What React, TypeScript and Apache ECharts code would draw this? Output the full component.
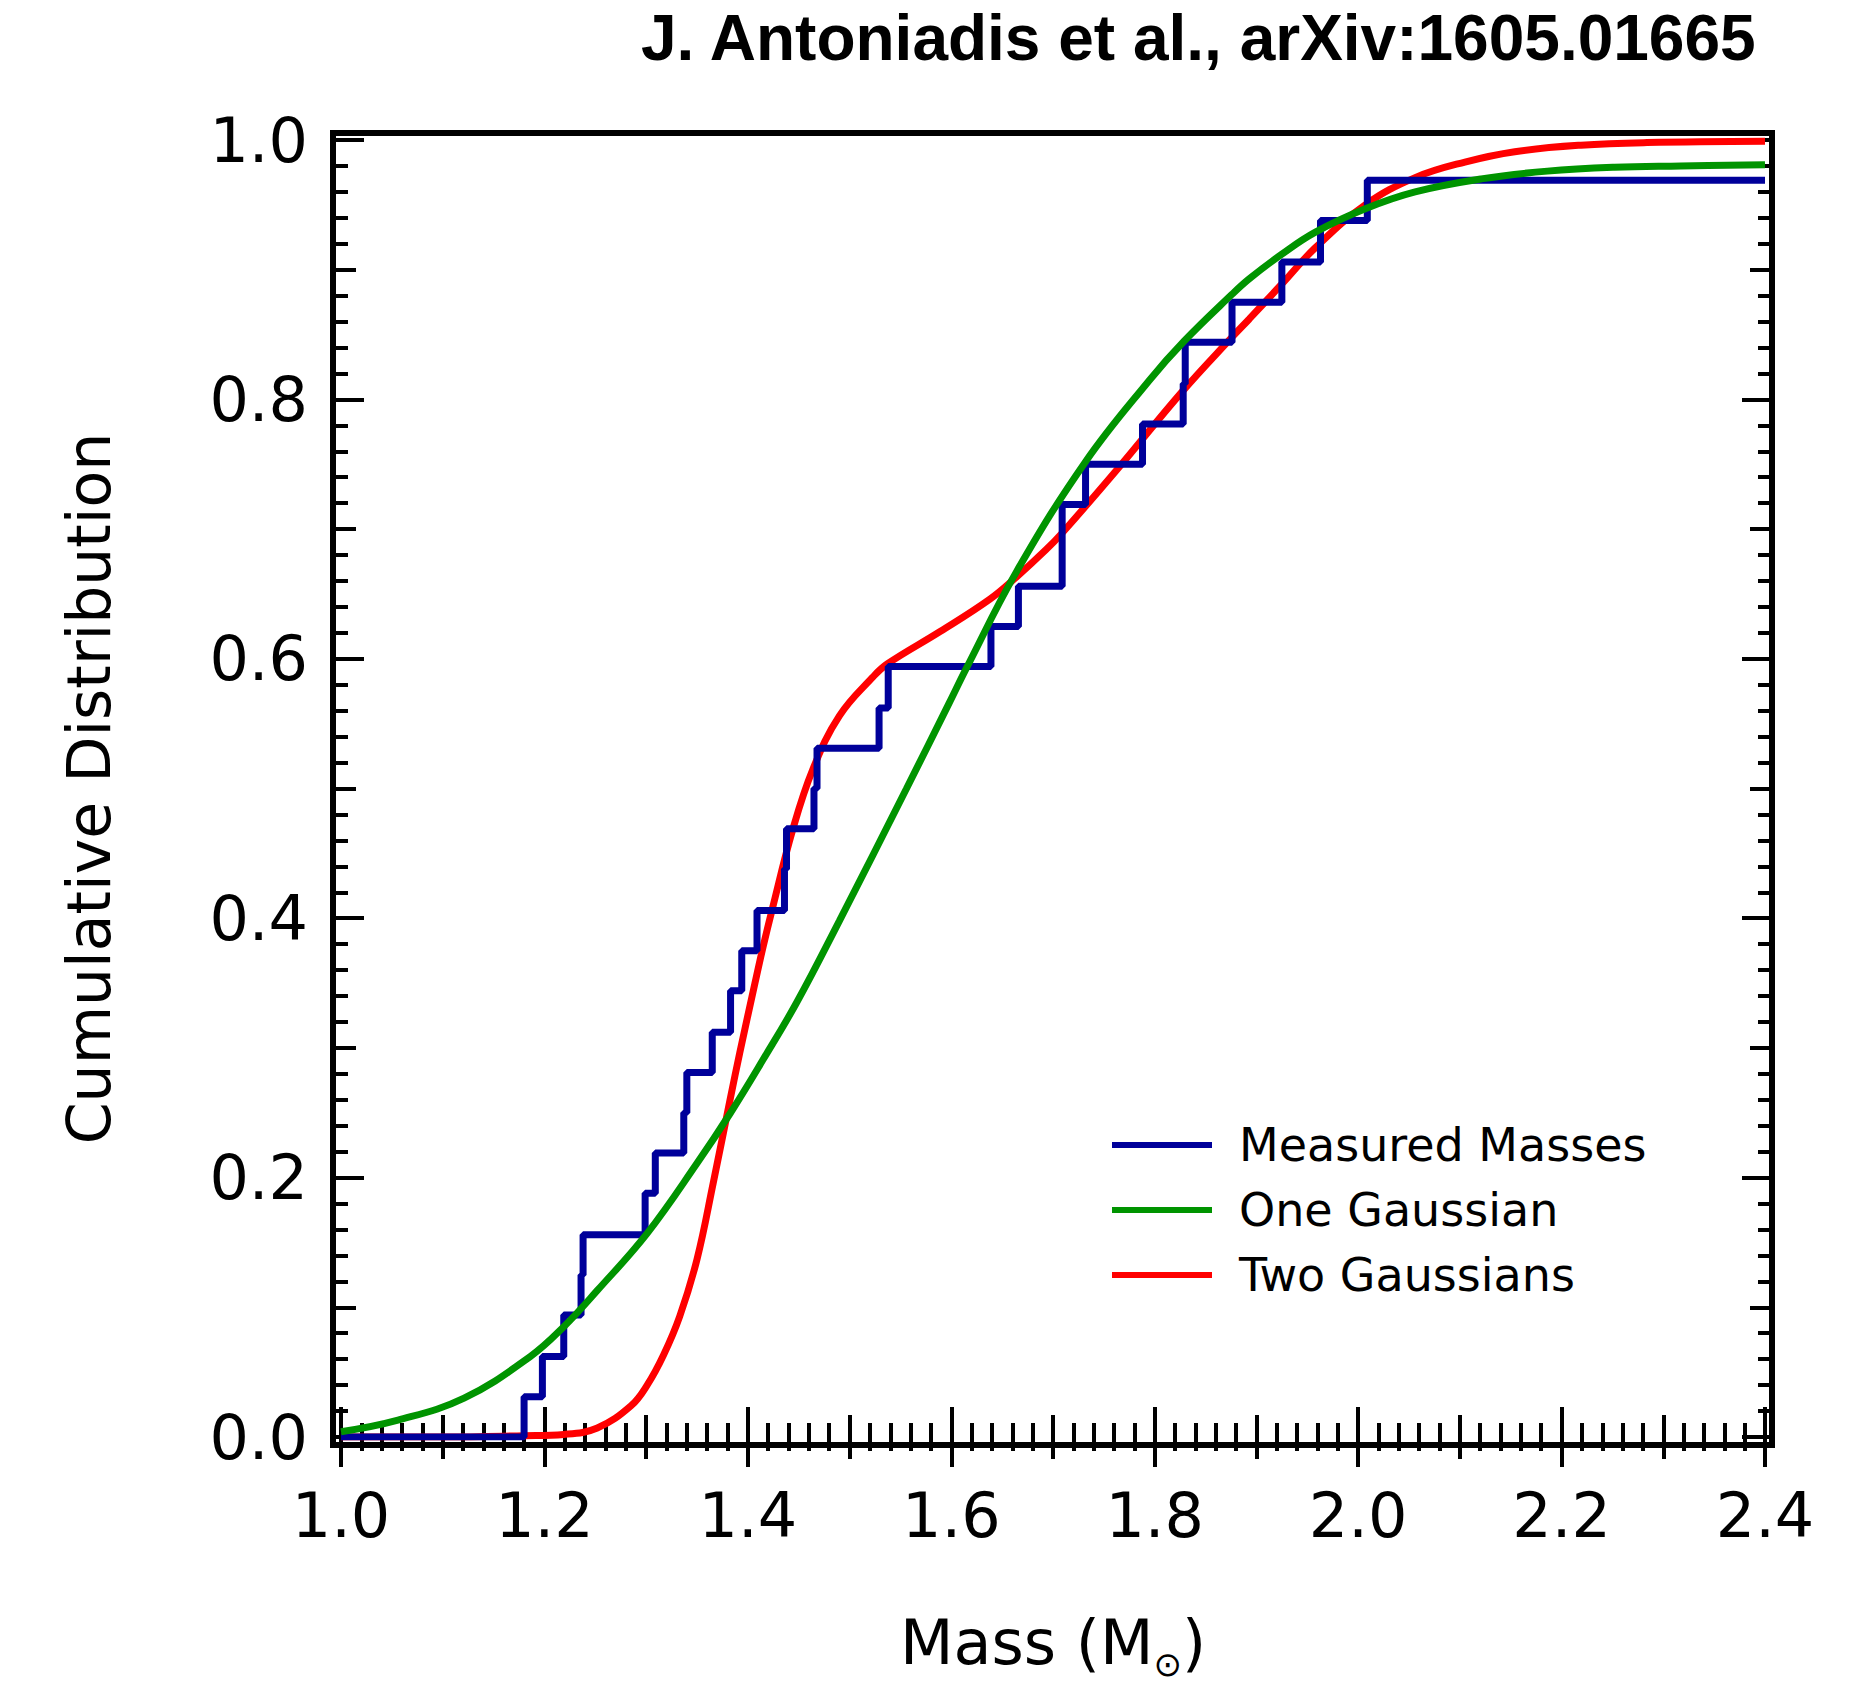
import React, { useEffect, useRef } from "react";
import * as echarts from "echarts";

// ---------- data ----------
const xMin = 1.0;
const xMax = 2.4;
const yMin = 0.0;
const yMax = 1.0;

// Sorted measured masses (position of each step of the empirical CDF)
const measuredMasses = [
  1.18, 1.198, 1.219, 1.236, 1.238, 1.299, 1.309, 1.337, 1.34, 1.365, 1.383,
  1.394, 1.409, 1.436, 1.438, 1.465, 1.468, 1.529, 1.538, 1.639, 1.666, 1.709,
  1.709, 1.732, 1.788, 1.828, 1.83, 1.876, 1.925, 1.963, 2.009,
];
// Cumulative level reached after each step
const cumulativeLevels = [
  0.031, 0.062, 0.094, 0.125, 0.156, 0.188, 0.219, 0.25, 0.281, 0.312, 0.344,
  0.375, 0.406, 0.438, 0.469, 0.5, 0.531, 0.562, 0.594, 0.625, 0.656, 0.688,
  0.719, 0.75, 0.781, 0.812, 0.844, 0.875, 0.906, 0.938, 0.969,
];

// One Gaussian model curve
const oneGaussX = [
  1.0, 1.056, 1.121, 1.186, 1.219, 1.252, 1.301, 1.35, 1.383, 1.415, 1.448,
  1.49, 1.556, 1.598, 1.615, 1.664, 1.732, 1.795, 1.829, 1.876, 1.893, 1.925,
  1.958, 2.007, 2.056, 2.121, 2.186, 2.252, 2.317, 2.4,
];
const oneGaussY = [
  0.004, 0.013, 0.03, 0.062, 0.085, 0.113, 0.157, 0.211, 0.25, 0.291, 0.335,
  0.398, 0.5, 0.566, 0.593, 0.667, 0.752, 0.815, 0.845, 0.881, 0.893, 0.912,
  0.929, 0.947, 0.96, 0.97, 0.976, 0.979, 0.98, 0.981,
];

// Two Gaussians model curve
const twoGaussX = [
  1.0, 1.1, 1.18, 1.219, 1.252, 1.285, 1.301, 1.317, 1.333, 1.35, 1.366, 1.383,
  1.392, 1.407, 1.415, 1.424, 1.444, 1.464, 1.49, 1.523, 1.537, 1.589, 1.638,
  1.664, 1.693, 1.709, 1.762, 1.827, 1.876, 1.893, 1.925, 1.958, 2.007, 2.056,
  2.105, 2.154, 2.219, 2.284, 2.4,
];
const twoGaussY = [
  0.0, 0.0, 0.001, 0.002, 0.007, 0.024, 0.04, 0.063, 0.093, 0.137, 0.196,
  0.262, 0.296, 0.35, 0.378, 0.407, 0.468, 0.515, 0.556, 0.586, 0.596, 0.621,
  0.646, 0.663, 0.684, 0.697, 0.745, 0.806, 0.848, 0.862, 0.889, 0.917, 0.95,
  0.971, 0.983, 0.991, 0.996, 0.998, 0.999,
];

const seriesNames = ["Measured Masses", "One Gaussian", "Two Gaussians"];
const titleText = "J. Antoniadis et al., arXiv:1605.01665";
const yTitle = "Cumulative Distribution";

// ---------- styling ----------
const FONT = "'DejaVu Sans', Verdana, sans-serif";
const BLUE = "#00009a";
const GREEN = "#009400";
const RED = "#ff0000";
const TICK = { color: "#000", width: 4 };
const LINE_W = 7;

function buildOption() {
  const stepData: number[][] = [[xMin, yMin]];
  measuredMasses.forEach((m, i) => stepData.push([m, cumulativeLevels[i]]));
  stepData.push([xMax, cumulativeLevels[cumulativeLevels.length - 1]]);

  const oneData = oneGaussX.map((x, i) => [x, oneGaussY[i]]);
  const twoData = twoGaussX.map((x, i) => [x, twoGaussY[i]]);

  const base = {
    type: "value",
    gridIndex: 0,
    axisLine: { show: false },
    splitLine: { show: false },
    axisLabel: { show: false },
  };

  const major = (extra: any) => ({
    ...base,
    interval: 0.2,
    axisTick: { show: true, inside: true, length: 30, lineStyle: TICK },
    minorTick: { show: true, splitNumber: 10, length: 14, lineStyle: TICK },
    ...extra,
  });
  const medium = (extra: any) => ({
    ...base,
    interval: 0.1,
    axisTick: { show: true, inside: true, length: 22, lineStyle: TICK },
    minorTick: { show: false },
    ...extra,
  });

  const xr = { min: xMin, max: xMax };
  const yr = { min: yMin, max: yMax };

  const xAxis = [
    major({
      ...xr,
      position: "bottom",
      offset: 8,
      axisLabel: {
        show: true,
        margin: 39,
        fontSize: 62,
        fontFamily: FONT,
        color: "#000",
        formatter: (v: number) => v.toFixed(1),
      },
      name: "{a|Mass (M}{s|\u2299}{a|)}",
      nameLocation: "middle",
      nameGap: 166,
      nameTextStyle: {
        color: "#000",
        fontFamily: FONT,
        fontSize: 62,
        rich: {
          a: {
            fontSize: 62,
            fontFamily: FONT,
            color: "#000",
            verticalAlign: "top",
            lineHeight: 70,
          },
          s: {
            fontSize: 34,
            fontFamily: FONT,
            color: "#000",
            verticalAlign: "top",
            lineHeight: 28,
            padding: [36, 0, 0, 0],
          },
        },
      },
    }),
    medium({ ...xr, position: "bottom", offset: 8 }),
    major({ ...xr, position: "top", offset: 7 }),
    medium({ ...xr, position: "top", offset: 7 }),
    { type: "value", gridIndex: 1, show: false, min: 0, max: 1 },
  ];

  const yAxis = [
    major({
      ...yr,
      position: "left",
      offset: 7,
      axisLabel: {
        show: true,
        margin: 26,
        fontSize: 62,
        fontFamily: FONT,
        color: "#000",
        formatter: (v: number) => v.toFixed(1),
      },
      name: yTitle,
      nameLocation: "middle",
      nameRotate: 90,
      nameGap: 215,
      nameTextStyle: { color: "#000", fontFamily: FONT, fontSize: 60 },
    }),
    medium({ ...yr, position: "left", offset: 7 }),
    major({ ...yr, position: "right", offset: 7 }),
    medium({ ...yr, position: "right", offset: 7 }),
    { type: "value", gridIndex: 1, show: false, min: 0, max: 1 },
  ];

  return {
    animation: false,
    backgroundColor: "#fff",
    title: {
      text: titleText,
      right: 113,
      top: 6,
      padding: 0,
      textStyle: {
        fontFamily: "'Liberation Sans', Arial, sans-serif",
        fontWeight: "bold",
        fontSize: 64,
        color: "#000",
      },
    },
    grid: [
      {
        left: 341,
        right: 106,
        top: 140,
        bottom: 251,
        show: false,
        containLabel: false,
        outerBoundsMode: "none",
      },
      {
        left: 333,
        right: 99,
        top: 133,
        bottom: 243,
        show: true,
        borderColor: "#000",
        borderWidth: 6,
        backgroundColor: "transparent",
        containLabel: false,
        outerBoundsMode: "none",
      },
    ],
    xAxis,
    yAxis,
    legend: {
      data: seriesNames,
      orient: "vertical",
      left: 1112,
      top: 1120,
      padding: 0,
      icon: "rect",
      itemWidth: 100,
      itemHeight: 6,
      itemGap: 15,
      selectedMode: false,
      textStyle: {
        fontSize: 46,
        fontFamily: FONT,
        color: "#000",
        lineHeight: 50,
        padding: [0, 0, 0, 22],
      },
    },
    series: [
      {
        name: seriesNames[2],
        type: "line",
        data: twoData,
        symbol: "none",
        smooth: 0.4,
        lineStyle: { color: RED, width: LINE_W },
        itemStyle: { color: RED },
        z: 2,
      },
      {
        name: seriesNames[0],
        type: "line",
        data: stepData,
        step: "end",
        symbol: "none",
        lineStyle: { color: BLUE, width: LINE_W },
        itemStyle: { color: BLUE },
        z: 3,
      },
      {
        name: seriesNames[1],
        type: "line",
        data: oneData,
        symbol: "none",
        smooth: 0.4,
        lineStyle: { color: GREEN, width: LINE_W },
        itemStyle: { color: GREEN },
        z: 4,
      },
    ],
  };
}

export default function App() {
  const ref = useRef<HTMLDivElement>(null);
  useEffect(() => {
    if (!ref.current) return;
    const chart = echarts.init(ref.current, undefined, { renderer: "svg" });
    chart.setOption(buildOption() as any);
    return () => chart.dispose();
  }, []);
  return (
    <div
      ref={ref}
      style={{
        position: "absolute",
        left: 0,
        top: 0,
        width: 1871,
        height: 1688,
        background: "#fff",
      }}
    />
  );
}
